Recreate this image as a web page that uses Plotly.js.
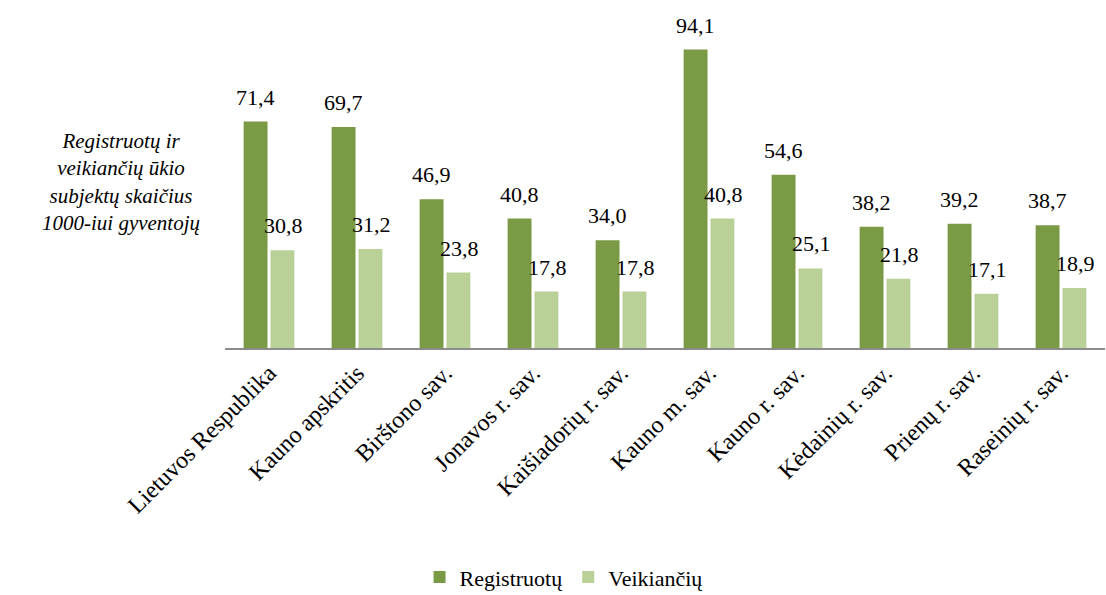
<!DOCTYPE html>
<html><head><meta charset="utf-8">
<script src="https://cdn.plot.ly/plotly-3.0.1.min.js"></script>
<style>
html,body{margin:0;padding:0;background:#fff}
</style>
</head><body>
<div id="chart" style="width:1106px;height:595px"></div>
<script>
const categories = ["Lietuvos Respublika", "Kauno apskritis", "Birštono sav.", "Jonavos r. sav.", "Kaišiadorių r. sav.", "Kauno m. sav.", "Kauno r. sav.", "Kėdainių r. sav.", "Prienų r. sav.", "Raseinių r. sav."];
const registruotu = [71.4, 69.7, 46.9, 40.8, 34.0, 94.1, 54.6, 38.2, 39.2, 38.7];
const veikianciu = [30.8, 31.2, 23.8, 17.8, 17.8, 40.8, 25.1, 21.8, 17.1, 18.9];
const seriesNames = ["Registruotų", "Veikiančių"];
const yTitle = "Registruotų ir<br>veikiančių ūkio<br>subjektų skaičius<br>1000-iui gyventojų";

const fmt = v => v.toFixed(1).replace('.', ',');
const mk = (size) => ({family: "Liberation Serif, Times New Roman, serif", size: size, color: "#000"});

const traces = [
  {type: "bar", name: seriesNames[0], x: categories, y: registruotu,
   marker: {color: "#7A9A45"}, hoverinfo: "x+y"},
  {type: "bar", name: seriesNames[1], x: categories, y: veikianciu,
   marker: {color: "#B9D096"}, hoverinfo: "x+y"}
];

const annotations = [];
const series = [registruotu, veikianciu];
series.forEach((vals, si) => {
  vals.forEach((v, i) => {
    annotations.push({
      x: categories[i], y: v, xref: "x", yref: "y",
      text: fmt(v), showarrow: false, xanchor: "center", yanchor: "bottom",
      xshift: si === 0 ? -14 : 14, yshift: 10, font: mk(22), textangle: 0.01
    });
  });
});
annotations.push({
  text: "<i>" + yTitle + "</i>", xref: "paper", yref: "paper",
  x: -0.118, y: 0.5, xanchor: "center", yanchor: "middle", showarrow: false,
  align: "center", font: mk(21), textangle: 0.01
});

const layout = {
  width: 1106, height: 595,
  margin: {l: 225, r: 1, t: 15, b: 247},
  paper_bgcolor: "#fff", plot_bgcolor: "#fff",
  barmode: "group", bargap: 0.39, bargroupgap: 0.11,
  font: mk(20),
  showlegend: true,
  legend: {orientation: "h", xref: "container", yref: "container", x: 0.51, xanchor: "center", y: 0.03, yanchor: "middle", font: mk(22)},
  xaxis: {showline: true, linecolor: "#8c8c8c", linewidth: 1.5, ticks: "", tickangle: -45, tickfont: mk(24), showgrid: false, zeroline: false},
  yaxis: {range: [0, 105], visible: false, showgrid: false, zeroline: false},
  annotations: annotations
};
Plotly.newPlot("chart", traces, layout, {displayModeBar: false, staticPlot: true});
</script>
</body></html>
